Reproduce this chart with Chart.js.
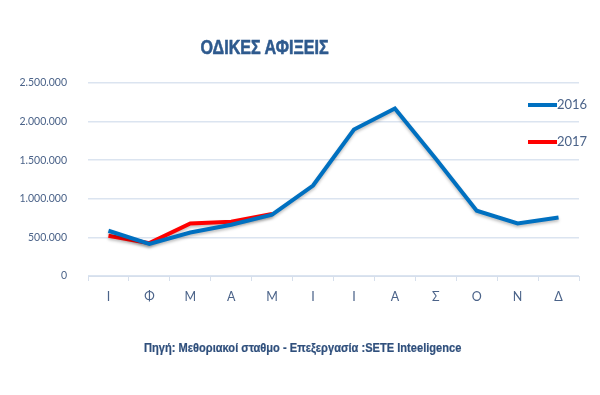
<!DOCTYPE html>
<html>
<head>
<meta charset="utf-8">
<script src="https://cdn.jsdelivr.net/npm/chart.js@4"></script>
<style>
  html, body { margin: 0; padding: 0; background: #fff; }
  #wrap { position: relative; width: 600px; height: 395px; overflow: hidden; }
  #chart { position: absolute; left: 0; top: 0; }
  .txt { position: absolute; font-family: 'Liberation Sans', Arial, sans-serif; white-space: nowrap; transform-origin: center top; }
  #title { top: 35px; font-size: 21px; font-weight: bold; color: #2e5a8e; -webkit-text-stroke: 0.6px #2e5a8e; }
  #source { top: 341px; font-size: 12px; font-weight: bold; color: #2f4f7c; -webkit-text-stroke: 0.2px #2f4f7c; }
  #legend { position: absolute; left: 528px; top: 96px; font-family: Lato, sans-serif; font-size: 13px; color: #4b6389; }
  #legend div { height: 37px; display: flex; align-items: flex-start; }
  #legend span.sw { display: inline-block; width: 29px; height: 4px; margin-top: 7px; }
</style>
</head>
<body>
<div id="wrap">
  <canvas id="chart" width="600" height="395"></canvas>
  <div id="title" class="txt">ΟΔΙΚΕΣ ΑΦΙΞΕΙΣ</div>
  <div id="legend"></div>
  <div id="source" class="txt">Πηγή: Μεθοριακοί σταθμο - Επεξεργασία :SETE Inteeligence</div>
</div>
<script>
const months = ['Ι', 'Φ', 'Μ', 'Α', 'Μ', 'Ι', 'Ι', 'Α', 'Σ', 'Ο', 'Ν', 'Δ'];
const arrivals2016 = [586000, 417000, 564000, 664000, 794000, 1172000, 1897000, 2170000, 1519000, 846000, 681000, 759000];
const arrivals2017 = [521000, 426000, 681000, 703000, 803000];
const seriesNames = ['2016', '2017'];
const seriesColors = ['#0070c0', '#ff0000'];

document.addEventListener('DOMContentLoaded', () => {
  let ctx = document.querySelector('#chart');

  let dots = v => String(v).replace(/\B(?=(\d{3})+(?!\d))/g, '.');

  // squeeze the headings to the narrow face of the original
  let fit = (el, width, centre) => {
    let w = el.offsetWidth;
    el.style.left = (centre - w / 2) + 'px';
    el.style.transform = 'scaleX(' + (width / w) + ')';
  };
  fit(document.querySelector('#title'), 128, 264);
  fit(document.querySelector('#source'), 317, 302);

  // soft shadow under the lines, like the original
  let shadow = {
    id: 'shadow',
    beforeDatasetsDraw(chart) {
      let c = chart.ctx;
      c.save();
      c.shadowColor = 'rgba(0,0,0,0.25)';
      c.shadowBlur = 3;
      c.shadowOffsetY = 2;
    },
    afterDatasetsDraw(chart) {
      chart.ctx.restore();
    }
  };

  let chart = new Chart(ctx, {
    type: 'line',
    data: {
      labels: months,
      datasets: [{
        label: seriesNames[0],
        data: arrivals2016,
        borderColor: seriesColors[0],
        backgroundColor: seriesColors[0],
        borderWidth: 4,
        pointRadius: 0,
        tension: 0
      }, {
        label: seriesNames[1],
        data: arrivals2017,
        borderColor: seriesColors[1],
        backgroundColor: seriesColors[1],
        borderWidth: 4,
        pointRadius: 0,
        tension: 0
      }]
    },
    options: {
      responsive: false,
      animation: false,
      layout: { padding: { left: 0, right: 21, top: 83, bottom: 83 } },
      plugins: {
        legend: { display: false },
        tooltip: { enabled: false }
      },
      scales: {
        x: {
          offset: true,
          grid: {
            offset: true,
            drawOnChartArea: false,
            drawTicks: true,
            tickLength: 5,
            color: '#d6dfec'
          },
          border: { display: true, color: '#d6dfec' },
          ticks: {
            padding: 8,
            color: '#4b6389',
            font: { family: 'Lato', size: 12.5 }
          }
        },
        y: {
          min: 0,
          max: 2500000,
          grid: { color: '#dbe4f0', lineWidth: 1.5, drawTicks: false },
          border: { display: false },
          ticks: {
            stepSize: 500000,
            padding: 21,
            color: '#4b6389',
            font: { family: 'Lato', size: 10.5 },
            callback: v => dots(v)
          },
          afterFit(scale) { scale.width = 88; }
        }
      }
    },
    plugins: [shadow]
  });

  let legend = document.querySelector('#legend');
  chart.data.datasets.forEach(ds => {
    let row = document.createElement('div');
    let sw = document.createElement('span');
    sw.className = 'sw';
    sw.style.background = ds.borderColor;
    row.appendChild(sw);
    row.appendChild(document.createTextNode(ds.label));
    legend.appendChild(row);
  });
});
</script>
</body>
</html>
